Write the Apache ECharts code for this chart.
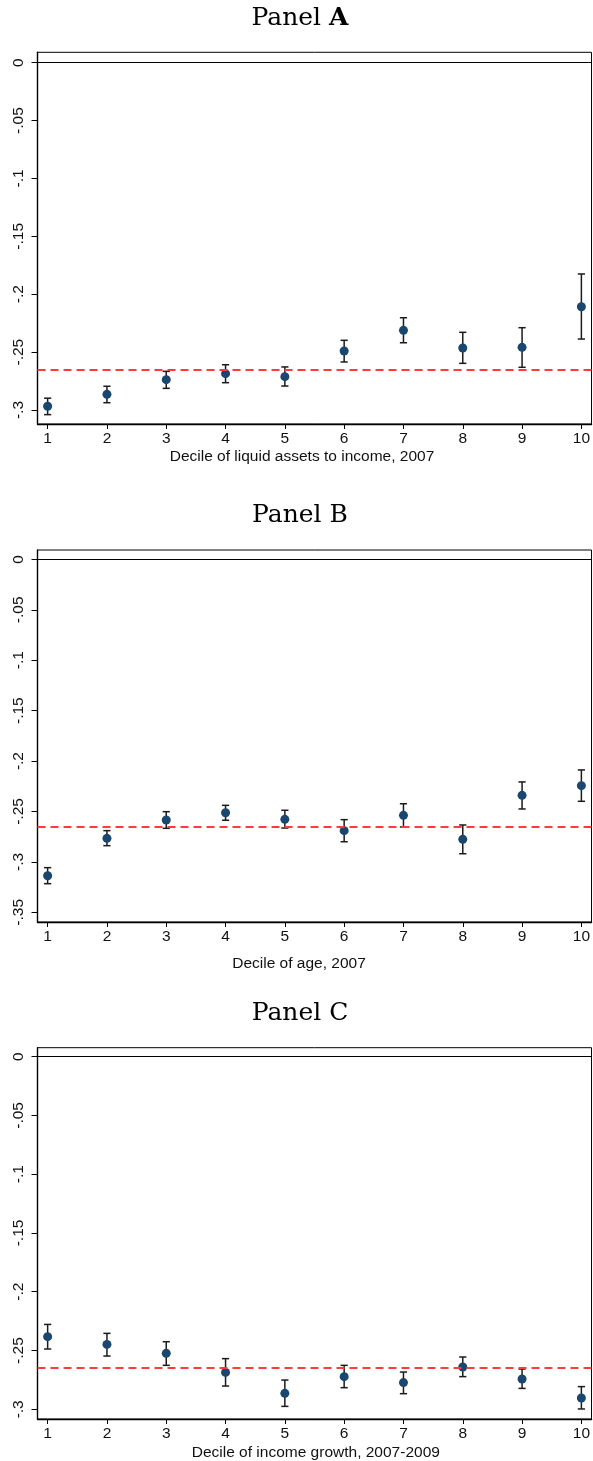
<!DOCTYPE html>
<html><head><meta charset="utf-8">
<script src="https://cdn.jsdelivr.net/npm/echarts@6/dist/echarts.min.js"></script>
<style>html,body{margin:0;padding:0;background:#fff}#c{width:593px;height:1461px}</style>
</head><body><div id="c"></div>
<script>
// ---- data ----
const deciles = [1, 2, 3, 4, 5, 6, 7, 8, 9, 10];
const xTicks = [1, 2, 3, 4, 5, 6, 7, 8, 9, 10];
const panelTitles = ['Panel', 'Panel', 'Panel'];
const panelLetters = ['A', 'B', 'C'];
const xTitles = ['Decile of liquid assets to income, 2007', 'Decile of age, 2007', 'Decile of income growth, 2007-2009'];

const estA = [-0.2968, -0.2865, -0.2738, -0.2686, -0.2712, -0.2490, -0.2312, -0.2464, -0.2459, -0.2108];
const hiA  = [-0.2898, -0.2795, -0.2666, -0.2609, -0.2628, -0.2398, -0.2203, -0.2329, -0.2289, -0.1825];
const loA  = [-0.3040, -0.2937, -0.2813, -0.2764, -0.2793, -0.2585, -0.2419, -0.2597, -0.2631, -0.2387];

const estB = [-0.3137, -0.2766, -0.2584, -0.2512, -0.2578, -0.2690, -0.2538, -0.2776, -0.2340, -0.2244];
const hiB  = [-0.3057, -0.2690, -0.2502, -0.2439, -0.2488, -0.2581, -0.2423, -0.2634, -0.2207, -0.2088];
const loB  = [-0.3216, -0.2839, -0.2667, -0.2587, -0.2664, -0.2800, -0.2654, -0.2919, -0.2475, -0.2399];

const estC = [-0.2382, -0.2448, -0.2524, -0.2686, -0.2864, -0.2722, -0.2773, -0.2640, -0.2742, -0.2904];
const hiC  = [-0.2278, -0.2354, -0.2425, -0.2569, -0.2751, -0.2626, -0.2683, -0.2555, -0.2657, -0.2807];
const loC  = [-0.2487, -0.2547, -0.2626, -0.2802, -0.2975, -0.2816, -0.2867, -0.2722, -0.2822, -0.2997];

const meanEffect = -0.265;
const yTicksA = [0, -0.05, -0.1, -0.15, -0.2, -0.25, -0.3];
const yTicksB = [0, -0.05, -0.1, -0.15, -0.2, -0.25, -0.3, -0.35];
const yTicksC = [0, -0.05, -0.1, -0.15, -0.2, -0.25, -0.3];

// ---- layout ----
const panels = [
  { est: estA, hi: hiA, lo: loA, yTicks: yTicksA, top: 52.3, height: 371.7, ymin: -0.31209, ymax: 0.00898, titleY: 18.5, xTitleX: 302, xTitleY: 456.5 },
  { est: estB, hi: hiB, lo: loB, yTicks: yTicksB, top: 550, height: 372, ymin: -0.3596, ymax: 0.00932, titleY: 515, xTitleX: 299, xTitleY: 963.5 },
  { est: estC, hi: hiC, lo: loC, yTicks: yTicksC, top: 1047.7, height: 371.3, ymin: -0.30824, ymax: 0.00757, titleY: 1013.3, xTitleX: 315.8, xTitleY: 1452.7 }
];
const GL = 37.5, GW = 556.4, XMIN = 0.829, XMAX = 10.171;
const sans = 'Liberation Sans, Arial, Helvetica, sans-serif';
const serif = 'DejaVu Serif, serif';

function fmtY(v) {
  if (Math.abs(v) < 1e-9) return '0';
  const s = String(+Math.abs(v).toFixed(3)).replace(/^0/, '');
  return (v < 0 ? '-' : '') + s;
}

const grid = [], xAxis = [], yAxis = [], series = [], graphic = [];
panels.forEach((p, i) => {
  grid.push({ left: GL, width: GW, top: p.top, height: p.height, show: true, borderColor: '#000', borderWidth: 1, backgroundColor: 'transparent', containLabel: false });
  xAxis.push({
    type: 'value', gridIndex: i, min: XMIN, max: XMAX,
    axisLine: { show: true, onZero: false, lineStyle: { color: '#000', width: 1.4 } },
    axisTick: { show: true, customValues: xTicks, length: 5, lineStyle: { color: '#000', width: 1 } },
    axisLabel: { show: true, customValues: xTicks, fontSize: 15.5, color: '#111', fontFamily: sans, margin: 7 },
    splitLine: { show: false }
  });
  yAxis.push({
    type: 'value', gridIndex: i, min: p.ymin, max: p.ymax,
    axisLine: { show: true, onZero: false, lineStyle: { color: '#000', width: 1.4 } },
    axisTick: { show: true, customValues: p.yTicks, length: 6, lineStyle: { color: '#000', width: 1 } },
    axisLabel: { show: true, customValues: p.yTicks, rotate: 90, fontSize: 15.5, color: '#111', fontFamily: sans, margin: 11, formatter: fmtY },
    splitLine: { show: false }
  });
  series.push({
    type: 'custom', xAxisIndex: i, yAxisIndex: i, z: 3,
    data: deciles.map((d, j) => [d, p.lo[j], p.hi[j]]),
    encode: { x: 0, y: [1, 2] },
    renderItem: function (params, api) {
      const x = api.value(0);
      const a = api.coord([x, api.value(2)]);
      const b = api.coord([x, api.value(1)]);
      const w = 3.6;
      const st = { stroke: '#1b1b1b', lineWidth: 1.5 };
      return { type: 'group', children: [
        { type: 'line', shape: { x1: a[0], y1: a[1], x2: b[0], y2: b[1] }, style: st },
        { type: 'line', shape: { x1: a[0] - w, y1: a[1], x2: a[0] + w, y2: a[1] }, style: st },
        { type: 'line', shape: { x1: b[0] - w, y1: b[1], x2: b[0] + w, y2: b[1] }, style: st }
      ] };
    }
  });
  series.push({
    type: 'scatter', xAxisIndex: i, yAxisIndex: i, z: 4,
    data: deciles.map((d, j) => [d, p.est[j]]),
    symbol: 'circle', symbolSize: 9,
    itemStyle: { color: '#1a476f', opacity: 1 },
    markLine: {
      silent: true, symbol: 'none', animation: false, precision: 6,
      label: { show: false },
      data: [
        { yAxis: 0, lineStyle: { color: '#000', width: 1.2, type: 'solid' } },
        { yAxis: meanEffect, lineStyle: { color: '#ff3c3c', width: 1.8, type: [8, 5] } }
      ]
    }
  });
  graphic.push({
    type: 'text', x: 300, y: p.titleY,
    style: {
      text: '{r|' + panelTitles[i] + ' }{' + (i === 0 ? 'b' : 'r') + '|' + panelLetters[i] + '}',
      align: 'center', verticalAlign: 'middle',
      rich: {
        r: { fontFamily: serif, fontSize: 25, fontWeight: 'normal', fill: '#000' },
        b: { fontFamily: serif, fontSize: 25, fontWeight: 'bold', fill: '#000' }
      }
    }
  });
  graphic.push({
    type: 'text', x: p.xTitleX, y: p.xTitleY,
    style: { text: xTitles[i], align: 'center', verticalAlign: 'middle', fontFamily: sans, fontSize: 15.5, fill: '#111' }
  });
});

const chart = echarts.init(document.getElementById('c'), null, { renderer: 'canvas' });
chart.setOption({ animation: false, backgroundColor: '#fff', grid, xAxis, yAxis, series, graphic });
</script>
</body></html>
